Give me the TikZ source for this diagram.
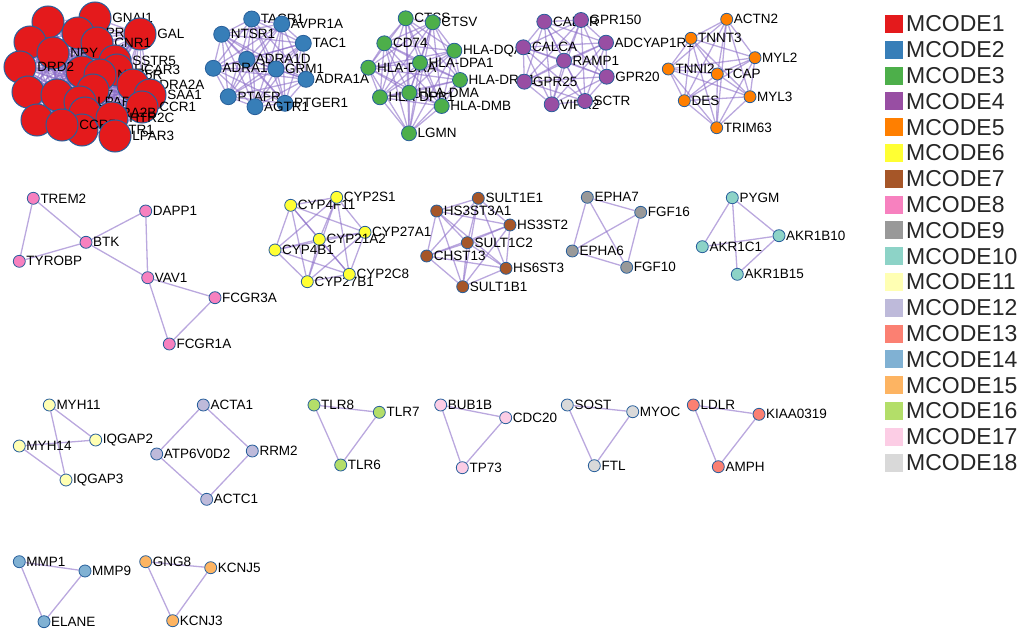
\documentclass[tikz,border=0pt]{standalone}
\usepackage{fontspec}
\setmainfont{Liberation Sans}
\usetikzlibrary{backgrounds}
\definecolor{cM1}{HTML}{E41A1C}
\definecolor{cM2}{HTML}{377EB8}
\definecolor{cM3}{HTML}{4DAF4A}
\definecolor{cM4}{HTML}{984EA3}
\definecolor{cM5}{HTML}{FF7F00}
\definecolor{cM6}{HTML}{FFFF33}
\definecolor{cM7}{HTML}{A65628}
\definecolor{cM8}{HTML}{F781BF}
\definecolor{cM9}{HTML}{999999}
\definecolor{cM10}{HTML}{8DD3C7}
\definecolor{cM11}{HTML}{FFFFB3}
\definecolor{cM12}{HTML}{BEBADA}
\definecolor{cM13}{HTML}{FB8072}
\definecolor{cM14}{HTML}{80B1D3}
\definecolor{cM15}{HTML}{FDB462}
\definecolor{cM16}{HTML}{B3DE69}
\definecolor{cM17}{HTML}{FCCDE5}
\definecolor{cM18}{HTML}{D9D9D9}
\definecolor{edgec}{RGB}{140,110,200}
\definecolor{bord}{RGB}{40,95,155}
\tikzset{
  gene/.style={circle, draw=bord, line width=0.8pt, inner sep=0pt, minimum size=12pt},
  big/.style={gene, minimum size=32pt, line width=1pt, fill=cM1},
  lbl/.style={anchor=west, inner sep=0.6pt, font=\fontsize{13.5}{14}\selectfont, text=black},
  edge/.style={draw=edgec, opacity=0.6, line width=1.3pt},
  legsq/.style={rectangle, inner sep=0pt, minimum size=18pt},
  legtxt/.style={anchor=west, inner sep=0pt, font=\fontsize{23}{24}\selectfont, text=black!85}
}
\newcommand\gnode[5]{\node[gene,#1] (#2) at (#3,#4) {}; \node[lbl] (#2l) at (#2.east) {#5};}
\newcommand\clique[1]{\foreach \a [count=\i] in {#1}{\foreach \b [count=\j] in {#1}{\ifnum\j>\i\relax \draw[edge] (\a) -- (\b);\fi}}}
\begin{document}
\begin{tikzpicture}[x=1pt,y=-1pt]
\useasboundingbox (0,0) rectangle (1020,634);

% ---------------- MCODE1
\node[big] (u1) at (48,22) {};
\node[big] (u2) at (30,42) {};
\gnode{big}{gnai1}{95}{18}{GNAI1}
\gnode{big}{oprk1}{78}{33}{OPRK1}
\gnode{big}{gal}{140}{34}{GAL}
\gnode{big}{cnr1}{97}{43}{CNR1}
\gnode{big}{npy}{53}{53}{NPY}
\gnode{big}{sstr5}{115}{61}{SSTR5}
\node[big] (u4) at (82,72) {};
\gnode{big}{drd2}{20}{67}{DRD2}
\gnode{big}{hcar3}{117}{70}{HCAR3}
\gnode{big}{npy5r}{100}{75}{NPY5R}
\gnode{big}{adra2a}{133}{85}{ADRA2A}
\gnode{big}{cxcl8}{28}{92}{CXCL8}
\gnode{big}{saa1}{150}{95}{SAA1}
\gnode{big}{grm7}{57}{95}{GRM7}
\node[big] (u5) at (93,90) {};
\gnode{big}{lpar1}{80}{102}{LPAR1}
\gnode{big}{ccr1}{142}{107}{CCR1}
\gnode{big}{adra2b}{85}{113}{ADRA2B}
\node[big] (u6) at (37,120) {};
\gnode{big}{htr2c}{112}{118}{HTR2C}
\gnode{big}{hcrtr1}{82}{130}{HCRTR1}
\gnode{big}{ccr5}{62}{125}{CCR5}
\gnode{big}{lpar3}{115}{136}{LPAR3}

% ---------------- MCODE2
\tikzset{g2/.style={fill=cM2, minimum size=16pt}}
\gnode{g2}{tacr1}{251.7}{19}{TACR1}
\gnode{g2}{avpr1a}{281.7}{24}{AVPR1A}
\gnode{g2}{ntsr1}{221.7}{34.3}{NTSR1}
\gnode{g2}{tac1}{303.3}{43.3}{TAC1}
\gnode{g2}{adra1d}{246.7}{59.3}{ADRA1D}
\gnode{g2}{adra1b}{213.3}{68.3}{ADRA1B}
\gnode{g2}{grm1}{276}{69}{GRM1}
\gnode{g2}{adra1a}{306}{79.3}{ADRA1A}
\gnode{g2}{ptafr}{228.3}{96.7}{PTAFR}
\gnode{g2}{ptger1}{285}{103.3}{PTGER1}
\gnode{g2}{agtr1}{255}{106.7}{AGTR1}

% ---------------- MCODE3
\tikzset{g3/.style={fill=cM3, minimum size=15pt}}
\gnode{g3}{ctss}{405.7}{18.3}{CTSS}
\gnode{g3}{ctsv}{432.7}{22.3}{CTSV}
\gnode{g3}{cd74}{384.3}{43.3}{CD74}
\gnode{g3}{hladqa1}{454.3}{50.7}{HLA-DQA1}
\gnode{g3}{hladra}{368.3}{67.7}{HLA-DRA}
\gnode{g3}{hladpa1}{420}{62.7}{HLA-DPA1}
\gnode{g3}{hladrb1}{460}{80}{HLA-DRB1}
\gnode{g3}{hladpb1}{380}{97.3}{HLA-DPB1}
\gnode{g3}{hladma}{409.3}{92.7}{HLA-DMA}
\gnode{g3}{hladmb}{441.7}{106}{HLA-DMB}
\gnode{g3}{lgmn}{409}{133.3}{LGMN}

% ---------------- MCODE4
\tikzset{g4/.style={fill=cM4, minimum size=15pt}}
\gnode{g4}{calcr}{544.3}{21.7}{CALCR}
\gnode{g4}{gpr150}{581}{20}{GPR150}
\gnode{g4}{adcyap1r1}{606}{42.7}{ADCYAP1R1}
\gnode{g4}{calca}{523.3}{47.3}{CALCA}
\gnode{g4}{ramp1}{564}{60.7}{RAMP1}
\gnode{g4}{gpr20}{606.7}{76.7}{GPR20}
\gnode{g4}{gpr25}{524.3}{81.7}{GPR25}
\gnode{g4}{vipr2}{551.7}{104.3}{VIPR2}
\gnode{g4}{sctr}{585}{101}{SCTR}

% ---------------- MCODE5
\tikzset{g5/.style={fill=cM5, minimum size=12pt}}
\gnode{g5}{actn2}{726.7}{19.3}{ACTN2}
\gnode{g5}{tnnt3}{691}{38.3}{TNNT3}
\gnode{g5}{myl2}{755}{57.7}{MYL2}
\gnode{g5}{tnni2}{668.3}{69}{TNNI2}
\gnode{g5}{tcap}{717.3}{74}{TCAP}
\gnode{g5}{myl3}{750}{96.7}{MYL3}
\gnode{g5}{des}{684.3}{100.7}{DES}
\gnode{g5}{trim63}{716.7}{127.7}{TRIM63}

% ---------------- MCODE8
\tikzset{g8/.style={fill=cM8}}
\gnode{g8}{trem2}{33.3}{198.3}{TREM2}
\gnode{g8}{dapp1}{145.7}{211}{DAPP1}
\gnode{g8}{btk}{86}{242.3}{BTK}
\gnode{g8}{tyrobp}{19.3}{261.3}{TYROBP}
\gnode{g8}{vav1}{147.7}{277.7}{VAV1}
\gnode{g8}{fcgr3a}{215}{297.7}{FCGR3A}
\gnode{g8}{fcgr1a}{169.3}{344}{FCGR1A}

% ---------------- MCODE6
\tikzset{g6/.style={fill=cM6}}
\gnode{g6}{cyp4f11}{290.7}{205.3}{CYP4F11}
\gnode{g6}{cyp2s1}{336.7}{197.3}{CYP2S1}
\gnode{g6}{cyp27a1}{365}{232.3}{CYP27A1}
\gnode{g6}{cyp21a2}{319.3}{239.3}{CYP21A2}
\gnode{g6}{cyp4b1}{275}{250}{CYP4B1}
\gnode{g6}{cyp27b1}{307.3}{281.7}{CYP27B1}
\gnode{g6}{cyp2c8}{349.3}{274.3}{CYP2C8}

% ---------------- MCODE7
\tikzset{g7/.style={fill=cM7}}
\gnode{g7}{sult1e1}{478.3}{198.3}{SULT1E1}
\gnode{g7}{hs3st3a1}{436.7}{211}{HS3ST3A1}
\gnode{g7}{hs3st2}{510}{225}{HS3ST2}
\gnode{g7}{sult1c2}{467.3}{242.7}{SULT1C2}
\gnode{g7}{chst13}{426.7}{256}{CHST13}
\gnode{g7}{hs6st3}{506}{268.3}{HS6ST3}
\gnode{g7}{sult1b1}{462.7}{286.7}{SULT1B1}

% ---------------- MCODE9
\tikzset{g9/.style={fill=cM9}}
\gnode{g9}{epha7}{587.3}{197.3}{EPHA7}
\gnode{g9}{fgf16}{640.7}{212.3}{FGF16}
\gnode{g9}{epha6}{572.3}{251}{EPHA6}
\gnode{g9}{fgf10}{626.7}{267.3}{FGF10}

% ---------------- MCODE10
\tikzset{g10/.style={fill=cM10}}
\gnode{g10}{pygm}{732.3}{197.7}{PYGM}
\gnode{g10}{akr1b10}{779}{235.7}{AKR1B10}
\gnode{g10}{akr1c1}{702.3}{246.7}{AKR1C1}
\gnode{g10}{akr1b15}{737.3}{274.3}{AKR1B15}

% ---------------- MCODE11
\tikzset{g11/.style={fill=cM11}}
\gnode{g11}{myh11}{49.3}{405}{MYH11}
\gnode{g11}{iqgap2}{95.7}{440}{IQGAP2}
\gnode{g11}{myh14}{19.3}{446}{MYH14}
\gnode{g11}{iqgap3}{66}{480}{IQGAP3}

% ---------------- MCODE12
\tikzset{g12/.style={fill=cM12}}
\gnode{g12}{acta1}{203.3}{405}{ACTA1}
\gnode{g12}{atp6v0d2}{156.7}{454}{ATP6V0D2}
\gnode{g12}{rrm2}{252.3}{451}{RRM2}
\gnode{g12}{actc1}{206.7}{499.3}{ACTC1}

% ---------------- MCODE16
\tikzset{g16/.style={fill=cM16}}
\gnode{g16}{tlr8}{314}{405}{TLR8}
\gnode{g16}{tlr7}{379.3}{412.3}{TLR7}
\gnode{g16}{tlr6}{340.7}{465}{TLR6}

% ---------------- MCODE17
\tikzset{g17/.style={fill=cM17}}
\gnode{g17}{bub1b}{440.7}{405}{BUB1B}
\gnode{g17}{cdc20}{505.7}{417.7}{CDC20}
\gnode{g17}{tp73}{462.3}{467.7}{TP73}

% ---------------- MCODE18
\tikzset{g18/.style={fill=cM18}}
\gnode{g18}{sost}{567.3}{405}{SOST}
\gnode{g18}{myoc}{632.7}{411.7}{MYOC}
\gnode{g18}{ftl}{594.3}{465.7}{FTL}

% ---------------- MCODE13
\tikzset{g13/.style={fill=cM13}}
\gnode{g13}{ldlr}{693.3}{405}{LDLR}
\gnode{g13}{kiaa0319}{759}{414.3}{KIAA0319}
\gnode{g13}{amph}{718.3}{466.7}{AMPH}

% ---------------- MCODE14
\tikzset{g14/.style={fill=cM14}}
\gnode{g14}{mmp1}{19.3}{561.7}{MMP1}
\gnode{g14}{mmp9}{85}{571}{MMP9}
\gnode{g14}{elane}{44}{621.7}{ELANE}

% ---------------- MCODE15
\tikzset{g15/.style={fill=cM15}}
\gnode{g15}{gng8}{145.7}{561.7}{GNG8}
\gnode{g15}{kcnj5}{210.7}{567.7}{KCNJ5}
\gnode{g15}{kcnj3}{172.7}{620.7}{KCNJ3}

% ---------------- edges
\begin{scope}[on background layer]
\clique{u1,u2,gnai1,oprk1,gal,cnr1,npy,sstr5,drd2,hcar3,u4,npy5r,adra2a,cxcl8,saa1,grm7,u5,lpar1,ccr1,adra2b,u6,htr2c,hcrtr1,ccr5,lpar3}
\clique{tacr1,avpr1a,ntsr1,tac1,adra1d,adra1b,grm1,adra1a,ptafr,ptger1,agtr1}
\clique{ctss,ctsv,cd74,hladqa1,hladra,hladpa1,hladrb1,hladpb1,hladma,hladmb,lgmn}
\clique{calcr,gpr150,adcyap1r1,calca,ramp1,gpr20,gpr25,vipr2,sctr}
\clique{actn2,tnnt3,myl2,tnni2,tcap,myl3,des,trim63}
\clique{cyp4f11,cyp2s1,cyp27a1,cyp21a2,cyp4b1,cyp27b1,cyp2c8}
\clique{sult1e1,hs3st3a1,hs3st2,sult1c2,chst13,hs6st3,sult1b1}
\clique{epha7,fgf16,epha6,fgf10}
\draw[edge] (trem2) -- (tyrobp);
\draw[edge] (trem2) -- (btk);
\draw[edge] (tyrobp) -- (btk);
\draw[edge] (btk) -- (dapp1);
\draw[edge] (btk) -- (vav1);
\draw[edge] (dapp1) -- (vav1);
\draw[edge] (vav1) -- (fcgr3a);
\draw[edge] (vav1) -- (fcgr1a);
\draw[edge] (fcgr3a) -- (fcgr1a);
\draw[edge] (pygm) -- (akr1c1);
\draw[edge] (pygm) -- (akr1b10);
\draw[edge] (pygm) -- (akr1b15);
\draw[edge] (akr1c1) -- (akr1b10);
\draw[edge] (akr1b10) -- (akr1b15);
\draw[edge] (myh11) -- (iqgap2);
\draw[edge] (myh11) -- (iqgap3);
\draw[edge] (myh14) -- (iqgap2);
\draw[edge] (myh14) -- (iqgap3);
\draw[edge] (acta1) -- (atp6v0d2);
\draw[edge] (acta1) -- (rrm2);
\draw[edge] (atp6v0d2) -- (actc1);
\draw[edge] (rrm2) -- (actc1);
\clique{tlr8,tlr7,tlr6}
\clique{bub1b,cdc20,tp73}
\clique{sost,myoc,ftl}
\clique{ldlr,kiaa0319,amph}
\clique{mmp1,mmp9,elane}
\clique{gng8,kcnj5,kcnj3}
\end{scope}

% ---------------- legend
\foreach \k in {1,...,18}{
  \node[legsq, fill=cM\k] (leg\k) at (894,{24+25.8*(\k-1)}) {};
  \node[legtxt] (legt\k) at (906,{24+25.8*(\k-1)}) {MCODE\k};
}
\end{tikzpicture}
\end{document}
